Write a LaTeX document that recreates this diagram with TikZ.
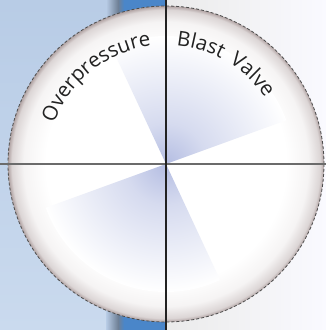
\documentclass[tikz,border=0pt]{standalone}
\usepackage{fontspec}
\setsansfont{Open Sans}
\usetikzlibrary{decorations.text,positioning,calc}
\definecolor{paleblue}{HTML}{B8CCE6}
\definecolor{paleblueb}{HTML}{CADAEE}
\definecolor{stripblue}{HTML}{4A86C9}
\definecolor{stripgray}{HTML}{6F8096}
\definecolor{rimgray}{HTML}{B0A2A2}
\definecolor{bladeblue}{HTML}{B4BDE2}
\definecolor{inkgray}{HTML}{222222}
\pgfdeclareradialshading{discshade}{\pgfpoint{0bp}{0bp}}{color(0bp)=(white); color(19bp)=(white); color(22.5bp)=(white!88!rimgray); color(24.4bp)=(white!55!rimgray); color(25bp)=(rimgray); color(50bp)=(rimgray)}
\pgfdeclareradialshading{bladeshade}{\pgfpoint{0bp}{0bp}}{color(0bp)=(bladeblue); color(8bp)=(bladeblue!55!white); color(25bp)=(white); color(50bp)=(white)}

\begin{document}
\begin{tikzpicture}[x=1pt, y=1pt,
    rimline/.style = {draw=black!70, line width=0.8pt, dash pattern=on 3pt off 2pt},
    hairH/.style = {draw=black!58, line width=2pt},
    hairV/.style = {draw=inkgray, line width=1.3pt},
    arclabel/.style = {decorate, decoration={text along path, text align=left,
                       text color=inkgray, text={|\sffamily\fontsize{20.5}{24}\selectfont|#1}}}
]
\useasboundingbox (0,0) rectangle (326,330);
\coordinate (ctr) at (166,166);
% backdrop
\shade[top color=paleblue, bottom color=paleblueb] (0,0) rectangle (106,330);
\shade[left color=paleblue, right color=stripgray] (106,0) rectangle (118,330);
\shade[left color=stripgray, right color=stripblue] (118,0) rectangle (124,330);
\fill[stripblue] (124,0) rectangle (166,330);
\shade[left color=white!92!black, right color=white!98!blue] (167,0) rectangle (326,330);
% disc
\shade[shading=discshade] (ctr) circle (158);
\begin{scope}
  \clip (ctr) -- ([shift={(ctr)}]20:128) arc[start angle=20, end angle=115, radius=128] -- cycle;
  \shade[shading=bladeshade] (ctr) circle (128);
\end{scope}
\begin{scope}
  \clip (ctr) -- ([shift={(ctr)}]200:128) arc[start angle=200, end angle=295, radius=128] -- cycle;
  \shade[shading=bladeshade] (ctr) circle (128);
\end{scope}
\draw[rimline] (ctr) circle (158);
% cross hair
\coordinate (west) at (0,166);
\coordinate (east) at (326,166);
\coordinate (north) at (166,330);
\coordinate (south) at (166,0);
\draw[hairH] (west) -- (east);
\draw[hairV] (north) -- (south);
% labels
\path[arclabel=Overpressure] ([shift={(ctr)}]160:119) arc[start angle=160, end angle=60, radius=119];
\path[arclabel=Blast] ([shift={(ctr)}]85:119) arc[start angle=85, end angle=40, radius=119];
\path[arclabel=Valve] ([shift={(ctr)}]58:119) arc[start angle=58, end angle=0, radius=119];
\end{tikzpicture}
\end{document}
